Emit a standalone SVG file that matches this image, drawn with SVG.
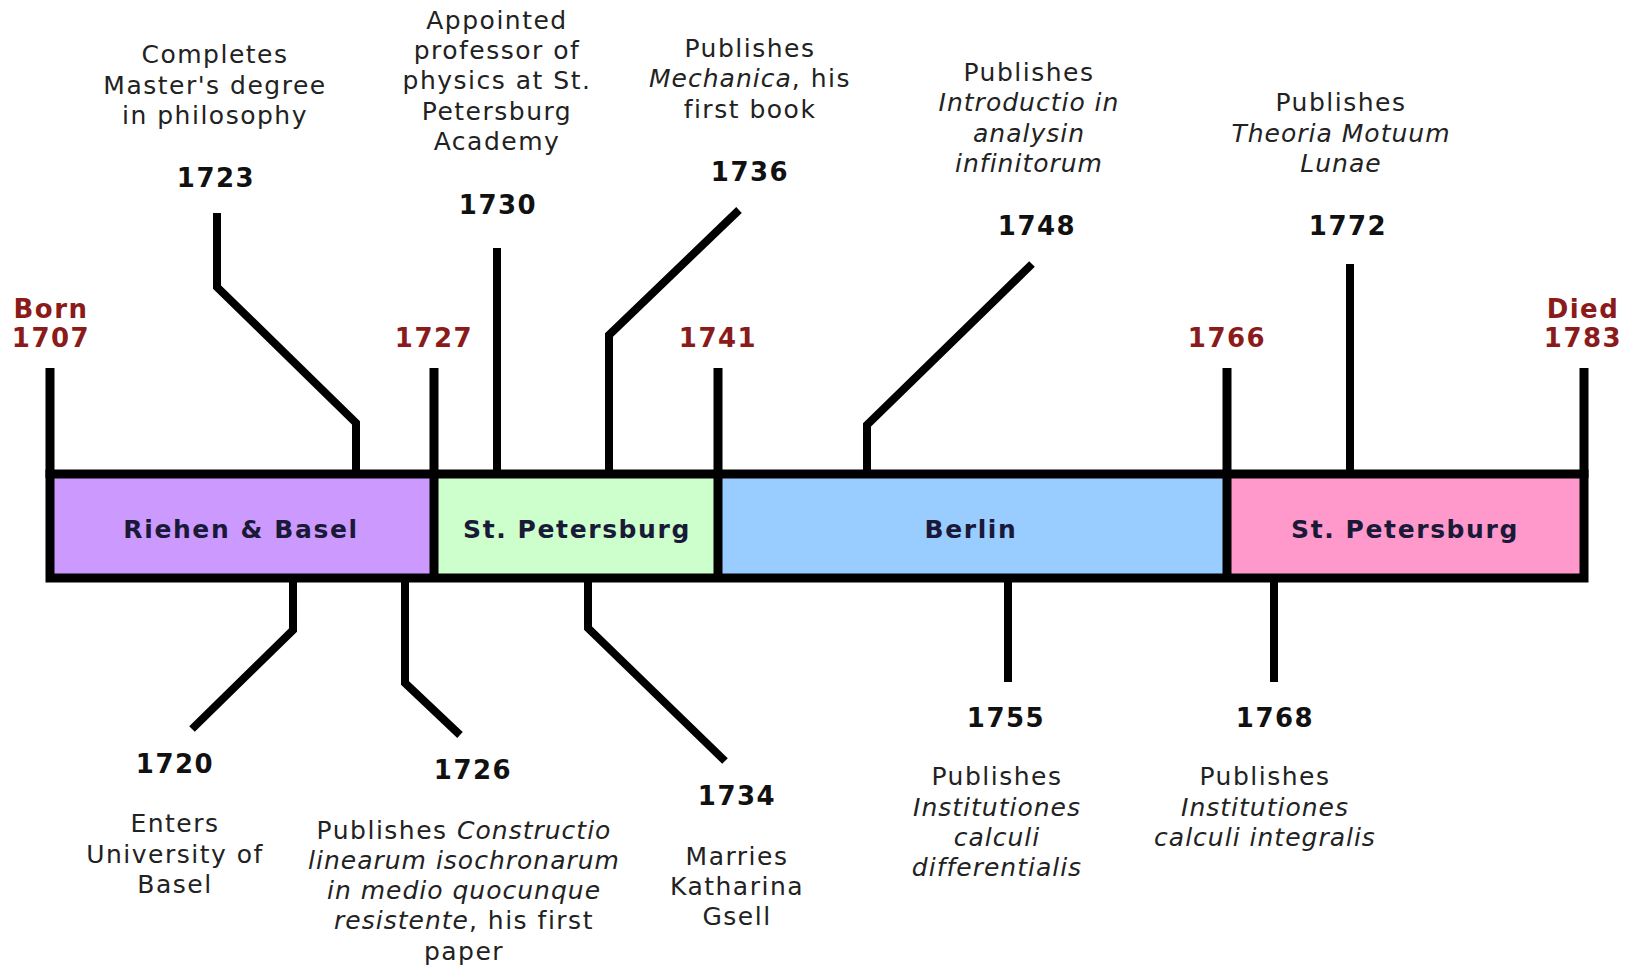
<svg xmlns="http://www.w3.org/2000/svg" width="1636" height="965" viewBox="0 0 1636 965">
<style>
  text { font-family: "DejaVu Sans", Verdana, sans-serif; text-anchor: middle; letter-spacing: 1.5px; }
  .desc { font-size: 25px; fill: #222; }
  .it { font-style: italic; letter-spacing: 1px; }
  .year { font-size: 26px; font-weight: bold; fill: #111; }
  .red { font-size: 26px; font-weight: bold; fill: #8b1a1a; }
  .region { font-size: 25px; font-weight: bold; fill: #1a1a38; letter-spacing: 1.6px; }
  .ln { fill: none; stroke: #000; stroke-width: 8; stroke-linejoin: miter; }
  .seg { stroke: #000; stroke-width: 9; }
</style>
<rect width="1636" height="965" fill="#fff"/>

<g id="periods">
  <g id="period-basel">
    <rect x="50" y="474" width="384" height="104" fill="#cc99ff"/>
    <text class="region" x="241" y="538">Riehen &amp; Basel</text>
  </g>
  <g id="period-stp1">
    <rect x="434" y="474" width="284" height="104" fill="#ccffcc"/>
    <text class="region" x="577" y="538">St. Petersburg</text>
  </g>
  <g id="period-berlin">
    <rect x="718" y="474" width="509" height="104" fill="#99ccff"/>
    <text class="region" x="971" y="538">Berlin</text>
  </g>
  <g id="period-stp2">
    <rect x="1227" y="474" width="357" height="104" fill="#ff99cc"/>
    <text class="region" x="1405" y="538">St. Petersburg</text>
  </g>
</g>

<g id="connectors">
  <rect x="50" y="474" width="1534" height="104" fill="none" stroke="#000" stroke-width="9"/>
  <line class="seg" x1="434" y1="368" x2="434" y2="578"/>
  <line class="seg" x1="718" y1="368" x2="718" y2="578"/>
  <line class="seg" x1="1227" y1="368" x2="1227" y2="578"/>
  <line class="seg" x1="50" y1="368" x2="50" y2="478"/>
  <line class="seg" x1="1584" y1="368" x2="1584" y2="478"/>
  <polyline class="ln" points="217,213 217,287 356,423 356,472"/>
  <polyline class="ln" points="497,248 497,472"/>
  <polyline class="ln" points="739,210 609,335 609,472"/>
  <polyline class="ln" points="1032,264 867,425 867,472"/>
  <polyline class="ln" points="1350,264 1350,472"/>
  <polyline class="ln" points="293,578 293,630 192,729"/>
  <polyline class="ln" points="405,578 405,683 460,735"/>
  <polyline class="ln" points="588,578 588,628 725,761"/>
  <polyline class="ln" points="1008,578 1008,682"/>
  <polyline class="ln" points="1274,578 1274,682"/>
</g>

<g id="born">
  <text class="red" x="51" y="318">Born</text>
  <text class="red" x="51" y="347">1707</text>
</g>
<g id="mark-1727"><text class="red" x="434" y="347">1727</text></g>
<g id="mark-1741"><text class="red" x="718" y="347">1741</text></g>
<g id="mark-1766"><text class="red" x="1227" y="347">1766</text></g>
<g id="died">
  <text class="red" x="1583" y="318">Died</text>
  <text class="red" x="1583" y="347">1783</text>
</g>

<g id="event-1723">
  <text class="desc" x="215" y="63">Completes</text>
  <text class="desc" x="215" y="94">Master's degree</text>
  <text class="desc" x="215" y="124">in philosophy</text>
  <text class="year" x="216" y="187">1723</text>
</g>
<g id="event-1730">
  <text class="desc" x="497" y="29">Appointed</text>
  <text class="desc" x="497" y="59">professor of</text>
  <text class="desc" x="497" y="89">physics at St.</text>
  <text class="desc" x="497" y="120">Petersburg</text>
  <text class="desc" x="497" y="150">Academy</text>
  <text class="year" x="498" y="214">1730</text>
</g>
<g id="event-1736">
  <text class="desc" x="750" y="57">Publishes</text>
  <text class="desc" x="750" y="87"><tspan class="it">Mechanica</tspan>, his</text>
  <text class="desc" x="750" y="118">first book</text>
  <text class="year" x="750" y="181">1736</text>
</g>
<g id="event-1748">
  <text class="desc" x="1029" y="81">Publishes</text>
  <text class="desc it" x="1029" y="111">Introductio in</text>
  <text class="desc it" x="1029" y="142">analysin</text>
  <text class="desc it" x="1029" y="172">infinitorum</text>
  <text class="year" x="1037" y="235">1748</text>
</g>
<g id="event-1772">
  <text class="desc" x="1341" y="111">Publishes</text>
  <text class="desc it" x="1341" y="142">Theoria Motuum</text>
  <text class="desc it" x="1341" y="172">Lunae</text>
  <text class="year" x="1348" y="235">1772</text>
</g>
<g id="event-1720">
  <text class="year" x="175" y="773">1720</text>
  <text class="desc" x="175" y="832">Enters</text>
  <text class="desc" x="175" y="863">University of</text>
  <text class="desc" x="175" y="893">Basel</text>
</g>
<g id="event-1726">
  <text class="year" x="473" y="779">1726</text>
  <text class="desc" x="464" y="839">Publishes <tspan class="it">Constructio</tspan></text>
  <text class="desc it" x="464" y="869">linearum isochronarum</text>
  <text class="desc it" x="464" y="899">in medio quocunque</text>
  <text class="desc" x="464" y="929"><tspan class="it">resistente</tspan>, his first</text>
  <text class="desc" x="464" y="960">paper</text>
</g>
<g id="event-1734">
  <text class="year" x="737" y="805">1734</text>
  <text class="desc" x="737" y="865">Marries</text>
  <text class="desc" x="737" y="895">Katharina</text>
  <text class="desc" x="737" y="925">Gsell</text>
</g>
<g id="event-1755">
  <text class="year" x="1006" y="727">1755</text>
  <text class="desc" x="997" y="785">Publishes</text>
  <text class="desc it" x="997" y="816">Institutiones</text>
  <text class="desc it" x="997" y="846">calculi</text>
  <text class="desc it" x="997" y="876">differentialis</text>
</g>
<g id="event-1768">
  <text class="year" x="1275" y="727">1768</text>
  <text class="desc" x="1265" y="785">Publishes</text>
  <text class="desc it" x="1265" y="816">Institutiones</text>
  <text class="desc it" x="1265" y="846">calculi integralis</text>
</g>
</svg>
